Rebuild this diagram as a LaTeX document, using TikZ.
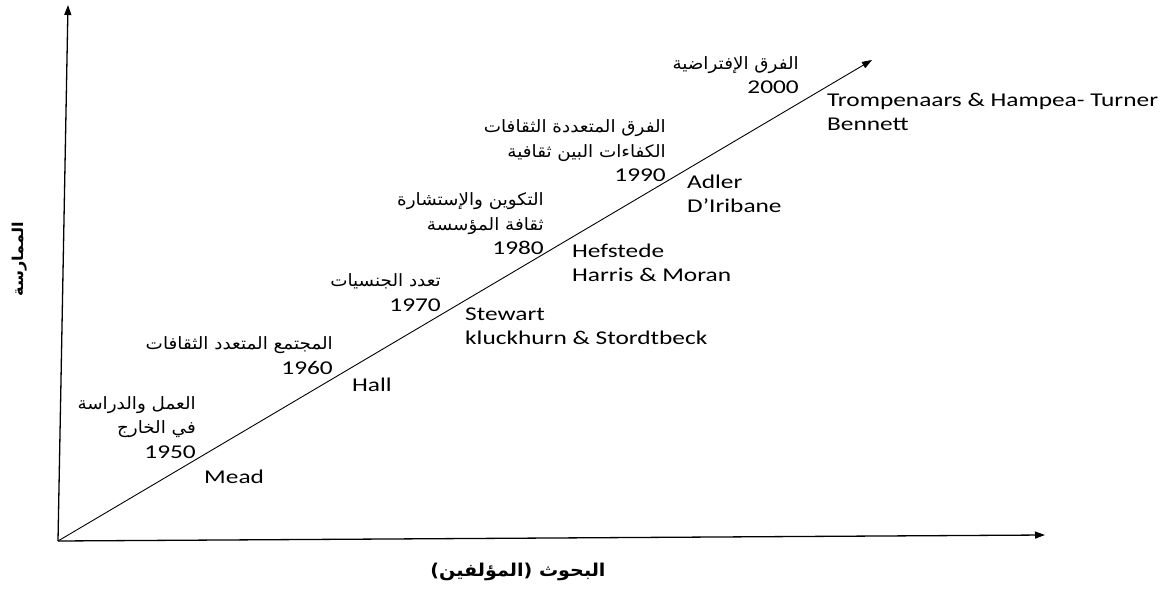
\documentclass[tikz,border=0pt]{standalone}
\usepackage{fontspec}
\usetikzlibrary{arrows.meta}
\setmainfont{Carlito}[FakeStretch=1.3]
\newfontfamily\arabicfont[Script=Arabic,FakeStretch=1.08]{DejaVu Sans}
\TeXXeTstate=1
% a right-to-left Arabic run
\newcommand\ar[1]{{\arabicfont\fontsize{17}{24.5}\selectfont\beginR #1\endR}}
% bold Arabic at a given size
\newcommand\arbf[1]{\arabicfont\bfseries\fontsize{#1}{24.5}\selectfont}

\tikzset{
  axis/.style={line width=1.3pt, -{Triangle[length=10pt,width=7pt]}},
  trend/.style={line width=0.9pt, -{Triangle[length=10pt,width=7pt]}},
  era/.style={anchor=east, align=right, inner sep=0pt, font=\fontsize{19.5}{24.5}\selectfont},
  names/.style={anchor=west, align=left, inner sep=0pt, font=\fontsize{19.5}{24}\selectfont},
  axislabel/.style={inner sep=0pt},
}

\begin{document}
\begin{tikzpicture}[x=1pt,y=-1pt]
\useasboundingbox (0,0) rectangle (1171,589);

% axes and the rising trend line
\coordinate (O) at (58,541);
\coordinate (Ytop) at (68,5);
\coordinate (Xend) at (1045,535);
\coordinate (Dend) at (872,60);
\draw[axis] (O) -- (Ytop);
\draw[axis] (O) -- (Xend);
\draw[trend] (O) -- (Dend);

% axis titles
\node[axislabel, rotate=90] (ylab) at (20,259) {\arbf{15}\beginR الممارسة\endR};
\node[axislabel] (xlab) at (518,572) {\arbf{17.7}\beginR البحوث (المؤلفين)\endR};

% decades and their themes (above the line)
\node[era] (e1950) at (196,427.5) {\ar{العمل والدراسة}\\\ar{في الخارج}\\1950};
\node[era] (e1960) at (333,355.5) {\ar{المجتمع المتعدد الثقافات}\\1960};
\node[era] (e1970) at (441,292.5) {\ar{تعدد الجنسيات}\\1970};
\node[era] (e1980) at (544,224) {\ar{التكوين والإستشارة}\\\ar{ثقافة المؤسسة}\\1980};
\node[era] (e1990) at (666,151) {\ar{الفرق المتعددة الثقافات}\\\ar{الكفاءات البين ثقافية}\\1990};
\node[era] (e2000) at (799,75) {\ar{الفرق الإفتراضية}\\2000};

% authors (below the line)
\node[names] (a1950) at (204,477) {Mead};
\node[names] (a1960) at (352,385) {Hall};
\node[names] (a1970) at (465,326.5) {Stewart\\kluckhurn \& Stordtbeck};
\node[names] (a1980) at (572,262.5) {Hefstede\\Harris \& Moran};
\node[names] (a1990) at (687,193.5) {Adler\\D’Iribane};
\node[names] (a2000) at (827,111.5) {Trompenaars \& Hampea- Turner\\Bennett};
\end{tikzpicture}
\end{document}
